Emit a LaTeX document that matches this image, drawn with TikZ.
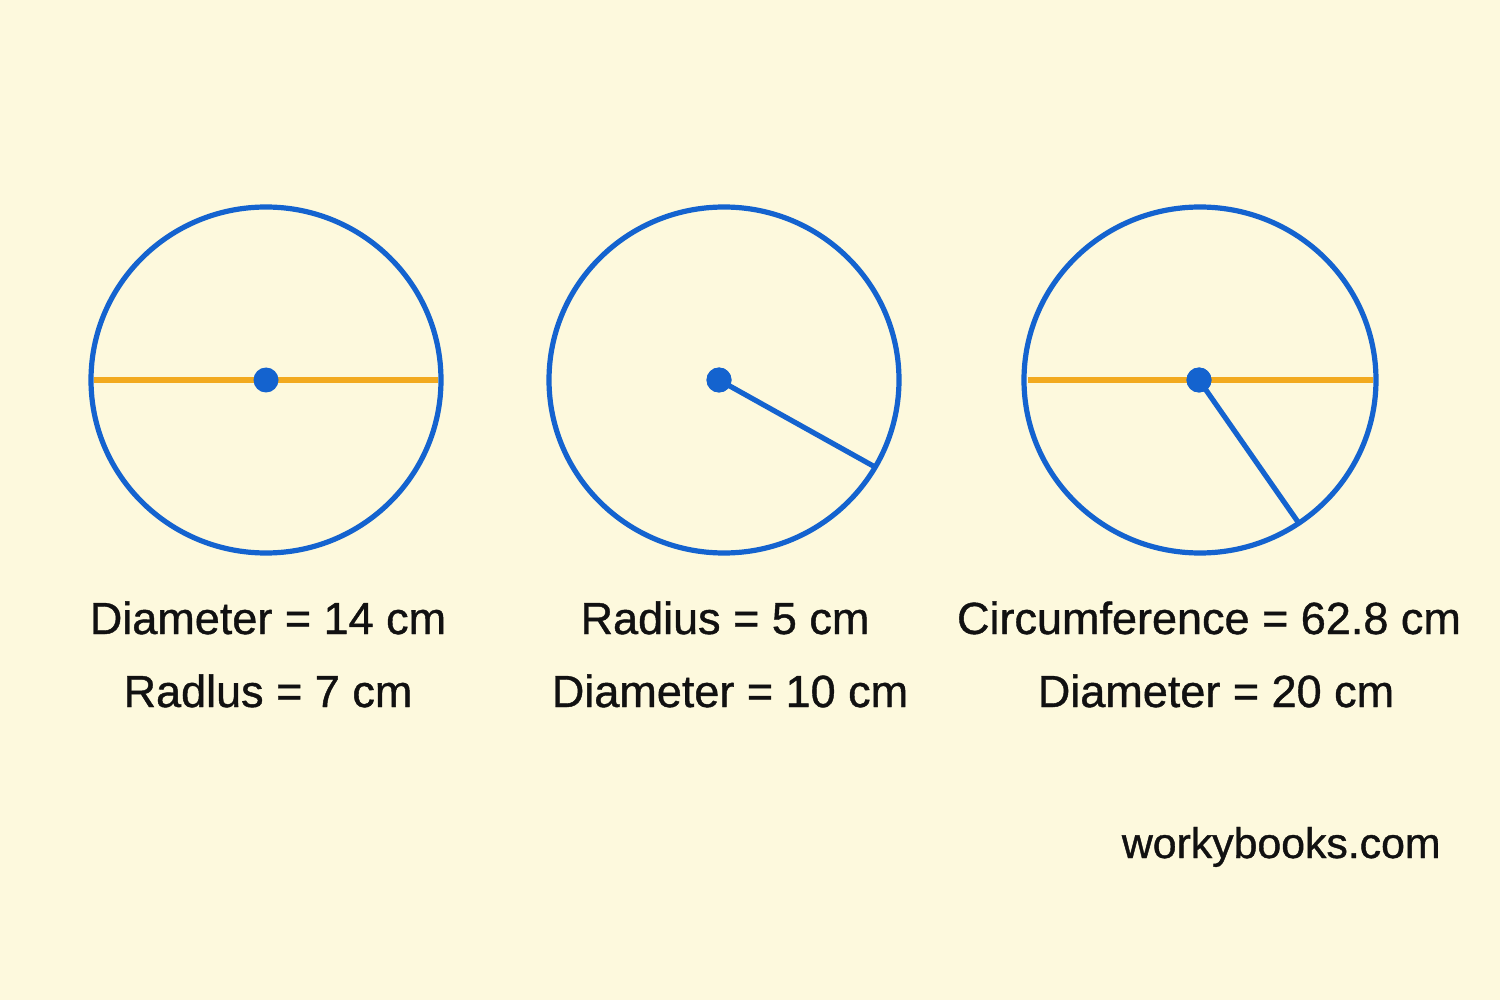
\documentclass[tikz,border=0pt]{standalone}
\usepackage{fontspec}
\setmainfont{Liberation Sans}
\newfontfamily\medfont{Liberation Sans}[FakeBold=0.9]
\definecolor{bg}{HTML}{FDF9DD}
\definecolor{cblue}{HTML}{1463CF}
\definecolor{corange}{HTML}{F2AA1F}
\definecolor{ctext}{HTML}{111111}
\begin{document}
\begin{tikzpicture}[x=0.5pt,y=-0.5pt,
  ring/.style={draw=cblue,line width=2.6pt},
  diam/.style={draw=corange,line width=3pt},
  rad/.style={draw=cblue,line width=2.6pt},
  dot/.style={circle,fill=cblue,inner sep=0pt,minimum size=12.5pt},
  lbl/.style={anchor=base,text=ctext,font=\medfont\fontsize{22.5}{27}\selectfont},
  brand/.style={anchor=base east,inner sep=0pt,text=ctext,font=\medfont\fontsize{21.4}{26}\selectfont}]
\fill[bg] (0,0) rectangle (1500,1000);
\useasboundingbox (0,0) rectangle (1500,1000);
% circle 1
\coordinate (c1) at (266,380);
\coordinate (c1l) at (94,380);
\coordinate (c1r) at (438,380);
\draw[diam] (c1l) -- (c1r);
\draw[ring] (c1) ellipse [x radius=175,y radius=173];
\node[dot] (d1) at (c1) {};
% circle 2
\coordinate (c2) at (724,380);
\coordinate (p2) at (875,467);
\draw[ring] (c2) ellipse [x radius=175,y radius=173];
\node[dot] (d2) at (719,380) {};
\draw[rad] (d2.center) -- (p2);
\node[dot] at (719,380) {};
% circle 3
\coordinate (c3) at (1200,380);
\coordinate (c3l) at (1028,380);
\coordinate (c3r) at (1373,380);
\coordinate (p3) at (1298,522);
\draw[diam] (c3l) -- (c3r);
\draw[ring] (c3) ellipse [x radius=176,y radius=173];
\node[dot] (d3) at (1199,380) {};
\draw[rad] (d3.center) -- (p3);
\node[dot] at (1199,380) {};
% labels
\node[lbl] (t1a) at (268,634) {Diameter = 14 cm};
\node[lbl] (t1b) at (268,707) {Radlus = 7 cm};
\node[lbl] (t2a) at (725,634) {Radius = 5 cm};
\node[lbl] (t2b) at (730,707) {Diameter = 10 cm};
\node[lbl] (t3a) at (1209,634) {Circumference = 62.8 cm};
\node[lbl] (t3b) at (1216,707) {Diameter = 20 cm};
\node[brand] (w) at (1441,858) {workybooks.com};
\end{tikzpicture}
\end{document}
